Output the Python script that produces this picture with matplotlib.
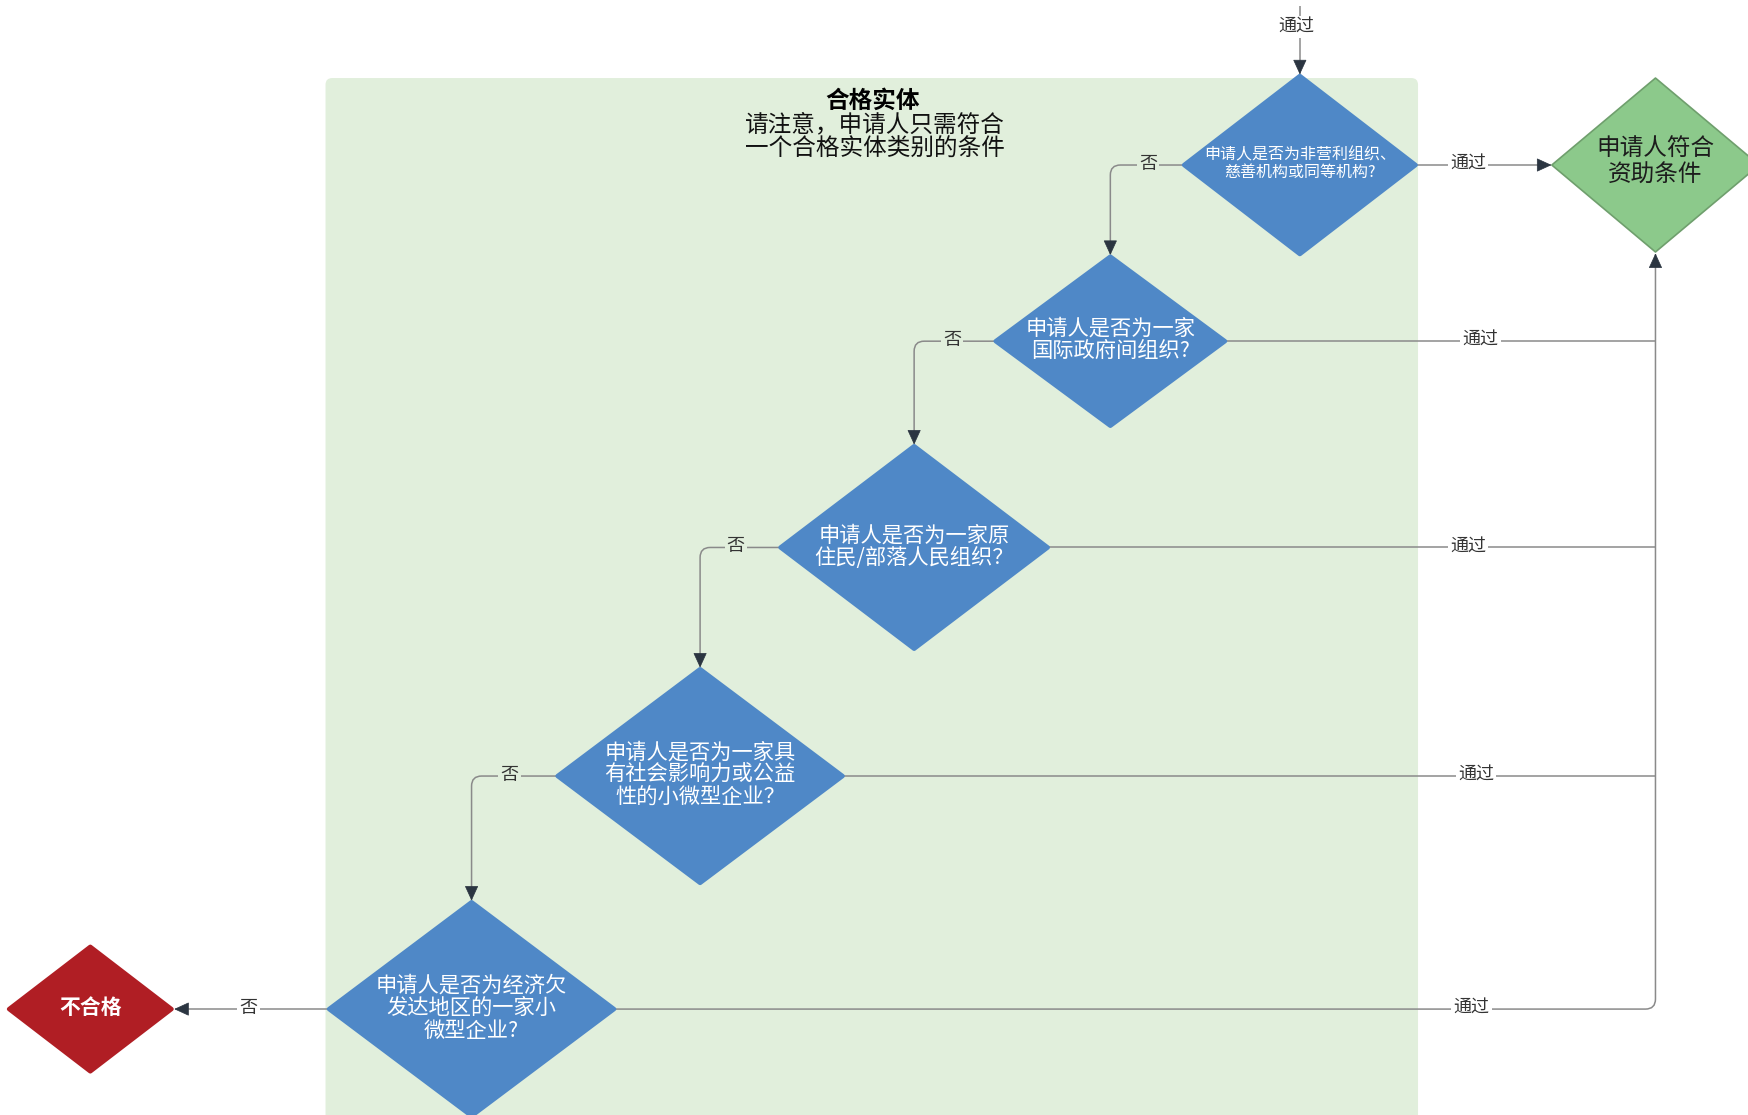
import numpy as np
import matplotlib
matplotlib.use("Agg")
import matplotlib.pyplot as plt
from matplotlib.patches import Polygon, FancyBboxPatch, PathPatch
from matplotlib.path import Path

plt.rcParams["font.family"] = ["Noto Sans CJK SC", "DejaVu Sans"]

# ---- chart content ----
panel_title = "合格实体"
panel_note = "请注意，申请人只需符合\n一个合格实体类别的条件"
questions = [
    "申请人是否为非营利组织、\n慈善机构或同等机构?",
    "申请人是否为一家\n国际政府间组织?",
    "申请人是否为一家原\n住民/部落人民组织？",
    "申请人是否为一家具\n有社会影响力或公益\n性的小微型企业？",
    "申请人是否为经济欠\n发达地区的一家小\n微型企业?",
]
pass_text = "申请人符合\n资助条件"
fail_text = "不合格"
yes_label = "通过"
no_label = "否"

# ---- layout (canvas units, 1568 x 1000, y downwards) ----
q_cx = [1166, 996, 820, 628, 423]
q_cy = [148, 306, 491, 696, 905]
q_hw = [104, 103, 120, 128, 128]
q_hh = [80, 76, 91, 96, 96]
q_fs = [11.5, 15.3, 15.3, 15.3, 15.3]
yes_lx = [1317, 1328, 1317, 1324, 1320]
no_lx = [1030, 854, 660, 457, 223]
pass_c = (1485, 148, 93, 78)
fail_c = (81, 905, 73, 56)
panel = (292, 70, 980, 945)

BLUE = "#4f88c7"
PANEL = "#e1efdc"
LINE = "#8a8a8a"
HEAD = "#2b3541"

fig = plt.figure(figsize=(17.48, 11.15), dpi=100)
ax = fig.add_axes([0, 0, 1, 1])
ax.set_xlim(0, 1568)
ax.set_ylim(1000, 0)
ax.axis("off")


def diamond(cx, cy, hw, hh, fc, ec=None, lw=3):
    pts = [(cx, cy - hh), (cx + hw, cy), (cx, cy + hh), (cx - hw, cy)]
    ax.add_patch(Polygon(pts, closed=True, fc=fc, ec=ec or fc, lw=lw,
                         joinstyle="round", zorder=3))


def route(pts, r=9):
    pts = [np.array(p, dtype=float) for p in pts]
    verts = [pts[0]]
    codes = [Path.MOVETO]
    for i in range(1, len(pts) - 1):
        p0, p1, p2 = pts[i - 1], pts[i], pts[i + 1]
        d1 = (p1 - p0) / np.linalg.norm(p1 - p0)
        d2 = (p2 - p1) / np.linalg.norm(p2 - p1)
        verts += [p1 - d1 * r, p1, p1 + d2 * r]
        codes += [Path.LINETO, Path.CURVE3, Path.CURVE3]
    verts.append(pts[-1])
    codes.append(Path.LINETO)
    ax.add_patch(PathPatch(Path(verts, codes), fill=False, ec=LINE, lw=1.1, zorder=2))


def head(tip, frm, length=12, half=5.5):
    tip = np.array(tip, dtype=float)
    d = tip - np.array(frm, dtype=float)
    d /= np.linalg.norm(d)
    n = np.array([-d[1], d[0]])
    base = tip - d * length
    ax.add_patch(Polygon([tip, base + n * half, base - n * half], closed=True,
                         fc=HEAD, ec=HEAD, lw=0.5, zorder=4))


def label(x, y, s):
    inside = panel[0] < x < panel[0] + panel[2] and y > panel[1]
    ax.text(x, y, s, ha="center", va="center", fontsize=13, color="#333333",
            bbox=dict(boxstyle="square,pad=0.12", fc=PANEL if inside else "white", ec="none"),
            zorder=5)


# panel
ax.add_patch(FancyBboxPatch((panel[0], panel[1]), panel[2], panel[3],
                            boxstyle="round,pad=0,rounding_size=6",
                            fc=PANEL, ec="none", zorder=0))
ax.text(783, 90, panel_title, ha="center", va="center", fontsize=17,
        fontweight="bold", color="black", zorder=5)
ax.text(785, 123, panel_note, ha="center", va="center", fontsize=17,
        style="italic", color="#111111", linespacing=1.05, zorder=5)

# entry arrow
route([(q_cx[0], 5), (q_cx[0], q_cy[0] - q_hh[0] - 2)])
head((q_cx[0], q_cy[0] - q_hh[0] - 2), (q_cx[0], 5))
label(1163, 24, yes_label)

gx, gy, ghw, ghh = pass_c

# question diamonds and edges
for i, q in enumerate(questions):
    cx, cy, hw, hh = q_cx[i], q_cy[i], q_hw[i], q_hh[i]
    diamond(cx, cy, hw, hh, BLUE)
    ax.text(cx, cy - 1, q, ha="center", va="center", fontsize=q_fs[i],
            color="white", linespacing=1.03, zorder=5)

    # "yes" branch
    if i == 0:
        route([(cx + hw, cy), (gx - ghw - 1, cy)])
        head((gx - ghw - 1, cy), (cx + hw, cy))
    elif i == len(questions) - 1:
        route([(cx + hw, cy), (gx, cy), (gx, gy + ghh + 2)])
        head((gx, gy + ghh + 2), (gx, cy))
    else:
        route([(cx + hw, cy), (gx, cy)])
    label(yes_lx[i], cy - 1, yes_label)

    # "no" branch
    if i < len(questions) - 1:
        nx, ny = q_cx[i + 1], q_cy[i + 1] - q_hh[i + 1] - 2
        route([(cx - hw, cy), (nx, cy), (nx, ny)])
        head((nx, ny), (nx, cy))
    else:
        fx = fail_c[0] + fail_c[2] + 3
        route([(cx - hw, cy), (fx, cy)])
        head((fx, cy), (cx - hw, cy))
    label(no_lx[i], cy - 1, no_label)

# outcome diamonds
diamond(gx, gy, ghw, ghh, "#8cc98b", ec="#6f9f6d", lw=1.2)
ax.text(gx, gy - 3, pass_text, ha="center", va="center", fontsize=17,
        fontweight="medium", color="#1c1c1c", linespacing=1.2, zorder=5)

fx, fy, fhw, fhh = fail_c
diamond(fx, fy, fhw, fhh, "#b01e24")
ax.text(fx, fy - 1, fail_text, ha="center", va="center", fontsize=15,
        fontweight="bold", color="white", zorder=5)

fig.savefig("out.png", dpi=100)
